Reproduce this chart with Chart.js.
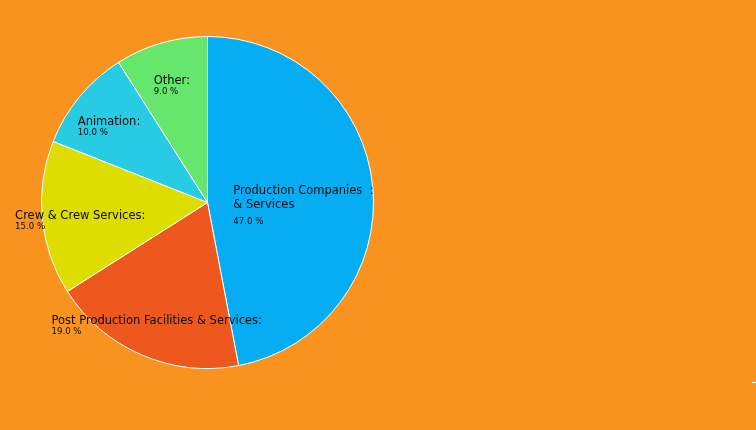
<!DOCTYPE html>
<html>
<head>
<meta charset="utf-8">
<script src="https://cdn.jsdelivr.net/npm/chart.js@4/dist/chart.umd.min.js"></script>
<style>
  html, body { margin: 0; padding: 0; background: #F8931F; }
  #wrap { width: 756px; height: 430px; }
</style>
</head>
<body>
<div id="wrap"><canvas id="c" width="756" height="430"></canvas></div>
<script>
// Data
const categories = ["Production Companies & Services", "Post Production Facilities & Services", "Crew & Crew Services", "Animation", "Other"];
const labelLines = [["Production Companies  :", "& Services"], ["Post Production Facilities & Services:"], ["Crew & Crew Services:"], ["Animation:"], ["Other:"]];
const shares = [47.0, 19.0, 15.0, 10.0, 9.0];
const colors = ["#06ADF2", "#EE581F", "#DDDD00", "#27CBE3", "#66E66D"];

const labelPlugin = {
  id: 'sliceLabels',
  afterDatasetsDraw(chart) {
    const ctx = chart.ctx;
    const meta = chart.getDatasetMeta(0);
    const nameFont = '11.5px "DejaVu Sans"';
    const pctFont = '8.6px "DejaVu Sans"';
    meta.data.forEach((arc, i) => {
      const p = arc.getProps(['x', 'y', 'startAngle', 'endAngle', 'outerRadius'], true);
      const mid = (p.startAngle + p.endAngle) / 2;
      const r = p.outerRadius * 0.77;
      const ax = p.x + Math.cos(mid) * r;
      const ay = p.y + Math.sin(mid) * r;
      const lines = labelLines[i];
      ctx.save();
      ctx.font = nameFont;
      let w = 0;
      lines.forEach(l => { w = Math.max(w, ctx.measureText(l).width); });
      let left = ax - w / 2;
      const maxRight = p.x + p.outerRadius;
      if (left + w > maxRight) left = maxRight - w;
      const lh = 14;
      const y = ay + 1;
      ctx.fillStyle = '#0a0a0a';
      ctx.textBaseline = 'middle';
      ctx.textAlign = 'left';
      lines.forEach((l, k) => { ctx.fillText(l, left, y + k * lh); });
      ctx.font = pctFont;
      const pctGap = lines.length > 1 ? 16 : 11;
      ctx.fillText(shares[i].toFixed(1) + ' %', left, y + (lines.length - 1) * lh + pctGap);
      ctx.restore();
    });
    // small white tick at right edge
    ctx.save();
    ctx.strokeStyle = '#ffffff';
    ctx.lineWidth = 1;
    ctx.beginPath();
    ctx.moveTo(chart.width - 4, 382.5);
    ctx.lineTo(chart.width, 382.5);
    ctx.stroke();
    ctx.restore();
  }
};

new Chart(document.getElementById('c'), {
  type: 'pie',
  data: {
    labels: categories,
    datasets: [{
      data: shares,
      backgroundColor: colors,
      borderColor: '#ffffff',
      borderWidth: 1
    }]
  },
  options: {
    responsive: false,
    animation: false,
    layout: { padding: { left: 41, right: 382, top: 36, bottom: 61 } },
    plugins: { legend: { display: false }, tooltip: { enabled: false } }
  },
  plugins: [labelPlugin]
});
</script>
</body>
</html>
